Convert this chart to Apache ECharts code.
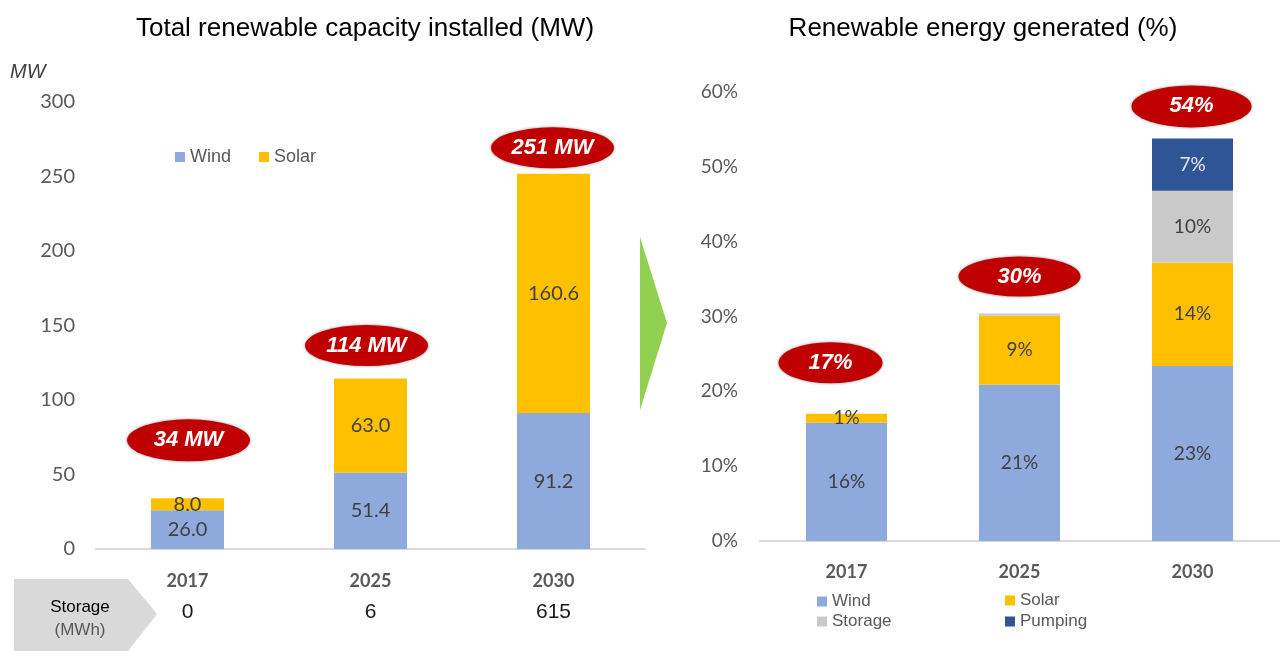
<!DOCTYPE html>
<html>
<head>
<meta charset="utf-8">
<script src="https://cdn.jsdelivr.net/npm/echarts@6/dist/echarts.min.js"></script>
<style>
  html, body { margin: 0; padding: 0; background: #ffffff; }
  #chart { width: 1280px; height: 651px; }
</style>
</head>
<body>
<div id="chart"></div>
<script>
// ---- Data ----
const years = ['2017', '2025', '2030'];
const capWind = [26.0, 51.4, 91.2];
const capSolar = [8.0, 63.0, 160.6];
const capTotalLabels = ['34 MW', '114 MW', '251 MW'];
const storageMWh = ['0', '6', '615'];
const capAxis = { min: 0, max: 300, interval: 50 };

const genWind = [15.8, 20.9, 23.4];
const genSolar = [1.2, 9.2, 13.8];
const genStorage = [0, 0.3, 9.6];
const genPumping = [0, 0, 7.0];
const genTotalLabels = ['17%', '30%', '54%'];
const genAxis = { min: 0, max: 60, interval: 10 };

// ---- Styles ----
const C_WIND = '#8EA9DB', C_SOLAR = '#FFC000', C_STOR = '#C9C9C9', C_PUMP = '#2F5597';
const C_RED = '#C00000';
const GRAY = '#595959';
const NUMFONT = 'Lato';
const TXTFONT = 'Liberation Sans';

const capTotals = years.map((_, i) => capWind[i] + capSolar[i]);
const genTotals = years.map((_, i) => genWind[i] + genSolar[i] + genStorage[i] + genPumping[i]);

const capBubbleOffset = [[1, -58], [-4, -33], [-1, -26]];
const capBubbleSize = [[123, 42], [123, 41], [123, 41]];
const genBubbleOffset = [[-16, -51], [0, -37], [-1, -32]];
const genBubbleSize = [[104, 41], [122, 40], [120, 42]];

const chart = echarts.init(document.getElementById('chart'), null, { renderer: 'canvas' });

function capLabel(color) {
  return { show: true, position: 'inside', color: color, fontFamily: NUMFONT, fontSize: 20,
    formatter: p => p.value.toFixed(1) };
}
function genLabel(color) {
  return { show: true, position: 'inside', color: color, fontFamily: NUMFONT, fontSize: 19,
    formatter: p => (p.value >= 0.5 ? Math.round(p.value) + '%' : '') };
}
function bubbleSeries(xi, yi, totals, labels, offsets, sizes) {
  return {
    type: 'scatter', xAxisIndex: xi, yAxisIndex: yi, z: 10, silent: true,
    data: years.map((y, i) => ({
      value: [y, totals[i]],
      symbolOffset: offsets[i],
      symbolSize: sizes[i],
      label: { formatter: labels[i] }
    })),
    symbol: 'circle',
    itemStyle: { color: C_RED, opacity: 1, shadowBlur: 3, shadowColor: 'rgba(0,0,0,0.45)' },
    label: { show: true, position: 'inside', color: '#ffffff', fontFamily: TXTFONT,
      fontSize: 22, fontWeight: 'bold', fontStyle: 'italic' }
  };
}

const legendBase = { icon: 'rect', itemWidth: 10, itemHeight: 10, itemGap: 4, padding: 0,
  selectedMode: false, textStyle: { color: GRAY, fontFamily: TXTFONT, fontSize: 17 } };

const option = {
  animation: false,
  backgroundColor: '#ffffff',
  title: [
    { text: 'Total renewable capacity installed (MW)', left: 360, top: 11, textAlign: 'center',
      textStyle: { fontFamily: TXTFONT, fontSize: 26, fontWeight: 'normal', color: '#000' } },
    { text: 'Renewable energy generated (%)', left: 978, top: 11, textAlign: 'center',
      textStyle: { fontFamily: TXTFONT, fontSize: 26, fontWeight: 'normal', color: '#000' } }
  ],
  legend: [
    Object.assign({}, legendBase, { data: ['Wind'], left: 175, top: 148, textStyle: Object.assign({}, legendBase.textStyle, { fontSize: 18 }) }),
    Object.assign({}, legendBase, { data: ['Solar'], left: 259, top: 148, textStyle: Object.assign({}, legendBase.textStyle, { fontSize: 18 }) }),
    Object.assign({}, legendBase, { data: ['Wind'], left: 817, top: 593 }),
    Object.assign({}, legendBase, { data: ['Solar'], left: 1005, top: 592 }),
    Object.assign({}, legendBase, { data: ['Storage'], left: 817, top: 613 }),
    Object.assign({}, legendBase, { data: ['Pumping'], left: 1005, top: 613 })
  ],
  grid: [
    { left: 96, top: 102, width: 549, height: 447 },
    { left: 760, top: 92, width: 519, height: 449 }
  ],
  xAxis: [
    { type: 'category', gridIndex: 0, data: years,
      axisLine: { lineStyle: { color: '#D9D9D9', width: 2 } }, axisTick: { show: false },
      axisLabel: { color: GRAY, fontFamily: NUMFONT, fontSize: 18, fontWeight: 'bold', margin: 23 } },
    { type: 'category', gridIndex: 0, data: storageMWh, position: 'bottom',
      axisLine: { show: false }, axisTick: { show: false },
      axisLabel: { color: '#1a1a1a', fontFamily: TXTFONT, fontSize: 21, margin: 53 } },
    { type: 'category', gridIndex: 1, data: years,
      axisLine: { lineStyle: { color: '#D9D9D9', width: 2 } }, axisTick: { show: false },
      axisLabel: { color: GRAY, fontFamily: NUMFONT, fontSize: 18, fontWeight: 'bold', margin: 22 } }
  ],
  yAxis: [
    { type: 'value', gridIndex: 0, min: capAxis.min, max: capAxis.max, interval: capAxis.interval,
      axisLine: { show: false }, axisTick: { show: false }, splitLine: { show: false },
      axisLabel: { color: GRAY, fontFamily: NUMFONT, fontSize: 20, margin: 21 } },
    { type: 'value', gridIndex: 1, min: genAxis.min, max: genAxis.max, interval: genAxis.interval,
      axisLine: { show: false }, axisTick: { show: false }, splitLine: { show: false },
      axisLabel: { color: GRAY, fontFamily: NUMFONT, fontSize: 19, margin: 22, formatter: '{value}%' } }
  ],
  series: [
    { name: 'Wind', type: 'bar', xAxisIndex: 0, yAxisIndex: 0, stack: 'cap', barWidth: 73,
      data: capWind, itemStyle: { color: C_WIND }, label: capLabel('#404040') },
    { name: 'Solar', type: 'bar', xAxisIndex: 0, yAxisIndex: 0, stack: 'cap', barWidth: 73,
      data: capSolar, itemStyle: { color: C_SOLAR }, label: capLabel('#404040') },
    { name: 'Wind', type: 'bar', xAxisIndex: 2, yAxisIndex: 1, stack: 'gen', barWidth: 81,
      data: genWind, itemStyle: { color: C_WIND }, label: genLabel('#404040') },
    { name: 'Solar', type: 'bar', xAxisIndex: 2, yAxisIndex: 1, stack: 'gen', barWidth: 81,
      data: genSolar, itemStyle: { color: C_SOLAR }, label: genLabel('#404040') },
    { name: 'Storage', type: 'bar', xAxisIndex: 2, yAxisIndex: 1, stack: 'gen', barWidth: 81,
      data: genStorage, itemStyle: { color: C_STOR }, label: genLabel('#404040') },
    { name: 'Pumping', type: 'bar', xAxisIndex: 2, yAxisIndex: 1, stack: 'gen', barWidth: 81,
      data: genPumping, itemStyle: { color: C_PUMP }, label: genLabel('#E6E6E6') },
    bubbleSeries(0, 0, capTotals, capTotalLabels, capBubbleOffset, capBubbleSize),
    bubbleSeries(2, 1, genTotals, genTotalLabels, genBubbleOffset, genBubbleSize)
  ],
  graphic: [
    { type: 'text', left: 10, top: 62, style: { text: 'MW', fill: '#404040',
      font: 'italic 20px "Liberation Sans"' } },
    { type: 'polygon', shape: { points: [[640, 237], [667, 323], [640, 410]] },
      style: { fill: '#92D050' } },
    { type: 'polygon', shape: { points: [[14, 579], [128, 579], [157, 614], [128, 651], [14, 651]] },
      style: { fill: '#D9D9D9' } },
    { type: 'text', x: 80, y: 607, style: { text: 'Storage', fill: '#000', textAlign: 'center',
      textVerticalAlign: 'middle', font: '17px "Liberation Sans"' } },
    { type: 'text', x: 80, y: 630, style: { text: '(MWh)', fill: GRAY, textAlign: 'center',
      textVerticalAlign: 'middle', font: '17px "Liberation Sans"' } }
  ]
};

chart.setOption(option);
</script>
</body>
</html>
